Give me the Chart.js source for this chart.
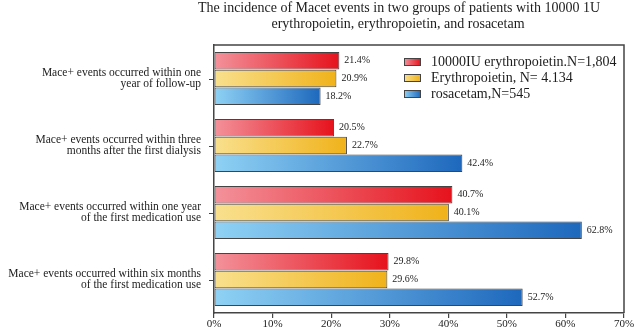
<!DOCTYPE html>
<html>
<head>
<meta charset="utf-8">
<script src="https://cdn.jsdelivr.net/npm/chart.js@4/dist/chart.umd.min.js"></script>
<style>
  html, body { margin: 0; padding: 0; background: #fff; }
  #wrap { width: 642px; height: 336px; position: relative; }
</style>
</head>
<body>
<div id="wrap"><canvas id="chart"></canvas></div>
<script>
// categories, top to bottom
var categories = [
	["Mace+ events occurred within one", "year of follow-up"],
	["Mace+ events occurred within three", "months after the first dialysis"],
	["Mace+ events occurred within one year", "of the first medication use"],
	["Mace+ events occurred within six months", "of the first medication use"]
];
var seriesNames = ["10000IU erythropoietin.N=1,804", "Erythropoietin, N= 4.134", "rosacetam,N=545"];
var epo10000 = [21.4, 20.5, 40.7, 29.8];
var epo = [20.9, 22.7, 40.1, 29.6];
var rosacetam = [18.2, 42.4, 62.8, 52.7];
var xTicks = [0, 10, 20, 30, 40, 50, 60, 70];
var titleLines = ["The incidence of Macet events in two groups of patients with 10000 1U", "erythropoietin, erythropoietin, and rosacetam"];

var SERIF = "'Liberation Serif', 'DejaVu Serif', serif";
var INK = "#1c1c1c";
var EDGE = "#444";

// light -> dark end of each bar
var shades = [
	["#f3929b", "#e6121c"],
	["#f9e08e", "#f0b21a"],
	["#8fd2f5", "#1e68bd"]
];

function barFill(idx){
	return function(context){
		var chart = context.chart;
		if(!chart.chartArea || context.parsed == undefined) return shades[idx][1];
		var xs = chart.scales.x;
		var x0 = xs.getPixelForValue(0);
		var x1 = xs.getPixelForValue(context.parsed.x);
		if(x1 - x0 < 1) return shades[idx][1];
		var g = chart.ctx.createLinearGradient(x0, 0, x1, 0);
		g.addColorStop(0, shades[idx][0]);
		g.addColorStop(1, shades[idx][1]);
		return g;
	};
}

var datasets = [epo10000, epo, rosacetam].map(function(vals, i){
	return {
		label: seriesNames[i],
		data: vals,
		backgroundColor: barFill(i),
		borderColor: EDGE,
		borderWidth: 1,
		borderSkipped: false,
		categoryPercentage: 0.8,
		barPercentage: 0.98
	};
});

// box, title, legend and value labels
var decor = {
	id: 'decor',
	afterDatasetsDraw: function(chart){
		var ctx = chart.ctx;
		var a = chart.chartArea;
		ctx.save();

		// frame (top + right)
		ctx.strokeStyle = EDGE;
		ctx.lineWidth = 1.5;
		ctx.beginPath();
		ctx.moveTo(a.left, a.top);
		ctx.lineTo(a.right, a.top);
		ctx.lineTo(a.right, a.bottom);
		ctx.stroke();

		// y tick marks at category centres
		var ys = chart.scales.y;
		ctx.lineWidth = 1.2;
		ctx.beginPath();
		for(var t = 0; t < ys.ticks.length; t++){
			var py = Math.round(ys.getPixelForTick(t)) + 0.5;
			ctx.moveTo(a.left - 5, py);
			ctx.lineTo(a.left, py);
		}
		ctx.stroke();

		// values at bar ends
		ctx.fillStyle = INK;
		ctx.font = "10px " + SERIF;
		ctx.textBaseline = "middle";
		ctx.textAlign = "left";
		chart.data.datasets.forEach(function(ds, di){
			chart.getDatasetMeta(di).data.forEach(function(bar, j){
				ctx.fillText(ds.data[j].toFixed(1) + "%", bar.x + 5, bar.y);
			});
		});

		// title
		ctx.font = "14px " + SERIF;
		ctx.textAlign = "center";
		ctx.fillText(titleLines[0], 399, 8);
		ctx.fillText(titleLines[1], 398, 24);

		// legend inside the plot
		ctx.font = "14px " + SERIF;
		ctx.textAlign = "left";
		chart.data.datasets.forEach(function(ds, i){
			var y = 62 + i * 16;
			var g = ctx.createLinearGradient(404, 0, 421, 0);
			g.addColorStop(0, shades[i][0]);
			g.addColorStop(1, shades[i][1]);
			ctx.fillStyle = g;
			ctx.fillRect(404, y - 4, 17, 8);
			ctx.strokeStyle = EDGE;
			ctx.lineWidth = 1;
			ctx.strokeRect(404.5, y - 3.5, 16, 7);
			ctx.fillStyle = INK;
			ctx.fillText(ds.label, 431, y);
		});
		ctx.restore();
	}
};

var ctx = document.getElementById('chart').getContext('2d');
var myChart = new Chart(ctx, {
	type: 'bar',
	data: {
		labels: categories,
		datasets: datasets
	},
	plugins: [decor],
	options: {
		indexAxis: 'y',
		responsive: true,
		maintainAspectRatio: false,
		animation: false,
		layout: { padding: { top: 45, right: 18, left: 0, bottom: 0 } },
		plugins: {
			legend: { display: false },
			title: { display: false },
			tooltip: { enabled: false }
		},
		scales: {
			x: {
				min: 0,
				max: 70,
				afterBuildTicks: function(scale){
					scale.ticks = xTicks.map(function(v){ return { value: v }; });
				},
				afterFit: function(scale){ scale.height = 23; },
				grid: {
					display: true,
					drawOnChartArea: false,
					drawTicks: true,
					tickLength: 5,
					lineWidth: 1.2,
					color: EDGE
				},
				border: { display: true, color: EDGE, width: 1.5 },
				ticks: {
					color: INK,
					padding: 0,
					maxRotation: 0,
					font: { family: SERIF, size: 11 },
					callback: function(v){ return v + "%"; }
				}
			},
			y: {
				afterFit: function(scale){ scale.width = 214; },
				grid: {
					display: false,
					drawTicks: true,
					tickLength: 5
				},
				border: { display: true, color: EDGE, width: 1.5 },
				ticks: {
					color: INK,
					padding: 8,
					font: { family: SERIF, size: 11.5, lineHeight: 1.0 }
				}
			}
		}
	}
});
</script>
</body>
</html>
